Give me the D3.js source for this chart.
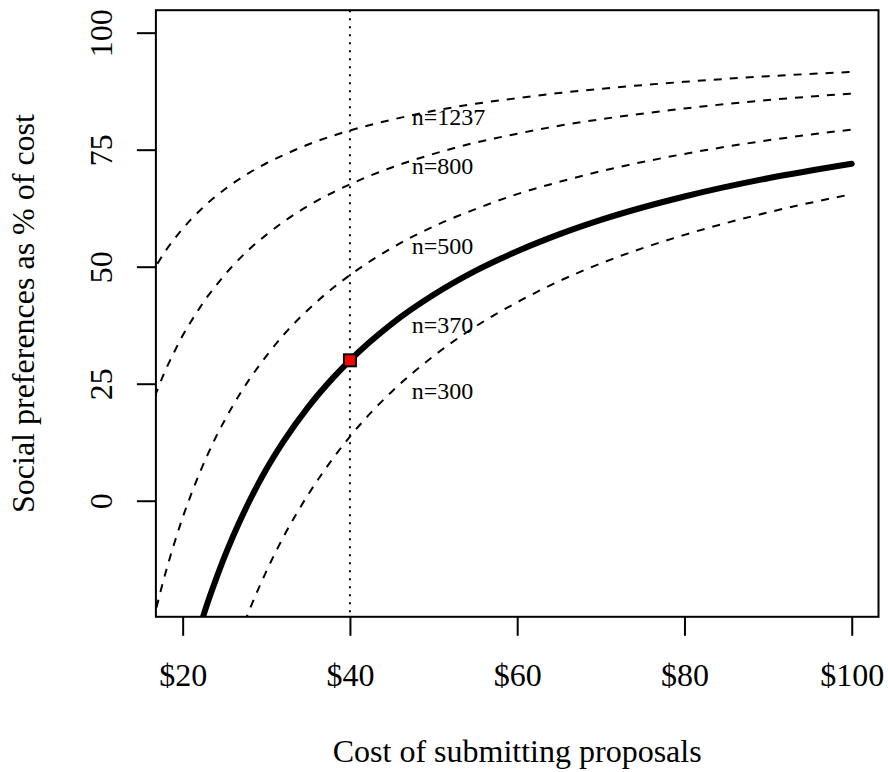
<!DOCTYPE html>
<html>
<head>
<meta charset="utf-8">
<script src="https://cdn.jsdelivr.net/npm/d3@7"></script>
<style>
  html, body { margin: 0; padding: 0; background: #fff; }
  svg { display: block; }
  text { font-family: "Liberation Serif", "Times New Roman", Times, serif; fill: #000; }
</style>
</head>
<body>
<svg id="chart" width="888" height="772"></svg>
<script>
// ---- data ----
const costs   = [16, 17, 18, 19, 20, 21, 22, 23, 24, 25, 26, 28, 30, 32, 35, 38, 40, 45, 50, 55, 60, 65, 70, 80, 90, 100];
const n1237   = [47.7, 50.7, 53.5, 55.9, 58.1, 60.1, 61.9, 63.6, 65.1, 66.5, 67.8, 70.1, 72.1, 73.8, 76.1, 78.0, 79.1, 81.4, 83.3, 84.8, 86.0, 87.1, 88.0, 89.5, 90.7, 91.6];
const n800    = [19.1, 23.8, 28.1, 31.8, 35.3, 38.3, 41.1, 43.7, 46.0, 48.2, 50.2, 53.8, 56.8, 59.5, 63.0, 65.9, 67.6, 71.2, 74.1, 76.5, 78.4, 80.1, 81.5, 83.8, 85.6, 87.0];
const n500    = [-29.5, -21.9, -15.1, -9.1, -3.6, 1.3, 5.8, 9.9, 13.7, 17.1, 20.3, 26.0, 30.9, 35.3, 40.8, 45.5, 48.2, 54.0, 58.6, 62.3, 65.5, 68.1, 70.4, 74.1, 77.0, 79.3];
const n370    = [-75.0, -64.7, -55.6, -47.4, -40.0, -33.3, -27.3, -21.7, -16.7, -12.0, -7.7, 0.0, 6.7, 12.5, 20.0, 26.3, 30.0, 37.8, 44.0, 49.1, 53.3, 56.9, 60.0, 65.0, 68.9, 72.0];
const n300    = [-115.8, -103.1, -91.8, -81.7, -72.7, -64.4, -57.0, -50.1, -43.9, -38.1, -32.8, -23.3, -15.1, -7.9, 1.3, 9.1, 13.7, 23.3, 30.9, 37.2, 42.4, 46.9, 50.7, 56.8, 61.6, 65.5];
const seriesNames  = ["n=1237", "n=800", "n=500", "n=370", "n=300"];
const labelCost    = 47.4;
const labelValues  = [82.0, 71.5, 54.5, 37.5, 23.5];
const highlighted  = "n=370";
const refCost  = 40;
const refValue = 30;
const xTicks = [20, 40, 60, 80, 100];
const yTicks = [0, 25, 50, 75, 100];
const xTitle = "Cost of submitting proposals";
const yTitle = "Social preferences as % of cost";

const seriesValues = [n1237, n800, n500, n370, n300];

(function draw() {
  const svg = d3.select("#chart");
  const pL = 155.9, pR = 878.5, pT = 10.2, pB = 616.8;
  const x = d3.scaleLinear().domain([16.8, 103.2]).range([pL, pR]);
  const y = d3.scaleLinear().domain([-24.8, 104.8]).range([pB, pT]);
  const serif = '"Liberation Serif", "Times New Roman", serif';

  svg.append("defs").append("clipPath").attr("id", "plotclip")
    .append("rect").attr("x", pL).attr("y", pT)
    .attr("width", pR - pL).attr("height", pB - pT);

  const plot = svg.append("g").attr("clip-path", "url(#plotclip)");

  const line = d3.line()
    .x(d => x(d[0])).y(d => y(d[1]))
    .curve(d3.curveMonotoneX);

  seriesNames.forEach((name, i) => {
    const pts = costs.map((c, j) => [c, seriesValues[i][j]]);
    const hi = name === highlighted;
    plot.append("path")
      .attr("d", line(pts))
      .attr("fill", "none")
      .attr("stroke", "#000")
      .attr("stroke-width", hi ? 6 : 2)
      .attr("stroke-linecap", hi ? "round" : "butt")
      .attr("stroke-dasharray", hi ? null : "8,8");
  });

  // vertical dotted reference line
  plot.append("line")
    .attr("x1", x(refCost)).attr("x2", x(refCost))
    .attr("y1", pT).attr("y2", pB)
    .attr("stroke", "#000").attr("stroke-width", 2)
    .attr("stroke-dasharray", "2,6");

  // labels
  seriesNames.forEach((name, i) => {
    svg.append("text")
      .attr("x", x(labelCost)).attr("y", y(labelValues[i]))
      .attr("dy", "0.34em")
      .attr("font-size", 24)
      .attr("text-anchor", "start")
      .text(name);
  });

  // red square marker
  svg.append("rect")
    .attr("x", x(refCost) - 6).attr("y", y(refValue) - 6)
    .attr("width", 12).attr("height", 12)
    .attr("fill", "#FF0000").attr("stroke", "#000").attr("stroke-width", 2);

  // box
  svg.append("rect")
    .attr("x", pL).attr("y", pT)
    .attr("width", pR - pL).attr("height", pB - pT)
    .attr("fill", "none").attr("stroke", "#000").attr("stroke-width", 2);

  // x axis
  const gx = svg.append("g").attr("transform", `translate(0,${pB})`)
    .call(d3.axisBottom(x).tickValues(xTicks).tickSize(19).tickFormat(d => "$" + d));
  gx.select(".domain").remove();
  gx.selectAll(".tick line").attr("stroke", "#000").attr("stroke-width", 2);
  gx.selectAll(".tick text")
    .attr("y", 69).attr("dy", null)
    .attr("font-size", 32).attr("fill", "#000")
    .style("font-family", serif);

  // y axis
  const gy = svg.append("g").attr("transform", `translate(${pL},0)`)
    .call(d3.axisLeft(y).tickValues(yTicks).tickSize(19));
  gy.select(".domain").remove();
  gy.selectAll(".tick line").attr("stroke", "#000").attr("stroke-width", 2);
  gy.selectAll(".tick text")
    .attr("x", null).attr("dy", null)
    .attr("transform", "translate(-43.6,0) rotate(-90)")
    .attr("text-anchor", "middle")
    .attr("font-size", 32).attr("fill", "#000")
    .style("font-family", serif);

  // titles
  svg.append("text")
    .attr("x", (pL + pR) / 2).attr("y", 762)
    .attr("text-anchor", "middle").attr("font-size", 32)
    .text(xTitle);
  svg.append("text")
    .attr("transform", `translate(33.5,${(pT + pB) / 2}) rotate(-90)`)
    .attr("text-anchor", "middle").attr("font-size", 32)
    .text(yTitle);
})();
</script>
</body>
</html>
